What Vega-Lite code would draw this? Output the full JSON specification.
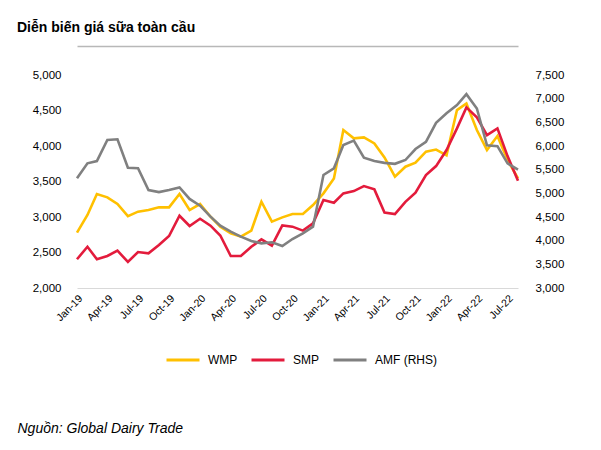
{
  "$schema": "https://vega.github.io/schema/vega-lite/v6.json",
  "autosize": "none",
  "width": 441,
  "height": 213,
  "padding": {"left": 77, "top": 75, "right": 83, "bottom": 162},
  "background": "white",
  "config": {
    "view": {"stroke": null},
    "font": "Liberation Sans, sans-serif"
  },
  "title": {
    "text": "Diễn biến giá sữa toàn cầu",
    "anchor": "start",
    "frame": "group",
    "dx": -60,
    "offset": 0,
    "baseline": "alphabetic",
    "font": "Liberation Sans, sans-serif",
    "fontSize": 14,
    "fontWeight": "bold",
    "color": "#000000"
  },
  "data": {
    "values": [
      {"d": "2019-01-01T00:00:00", "WMP": 2779, "SMP": 2405, "AMF": 5318},
      {"d": "2019-02-01T00:00:00", "WMP": 3028, "SMP": 2581, "AMF": 5635},
      {"d": "2019-03-01T00:00:00", "WMP": 3323, "SMP": 2405, "AMF": 5683},
      {"d": "2019-04-01T00:00:00", "WMP": 3277, "SMP": 2451, "AMF": 6127},
      {"d": "2019-05-01T00:00:00", "WMP": 3183, "SMP": 2526, "AMF": 6141},
      {"d": "2019-06-01T00:00:00", "WMP": 3013, "SMP": 2367, "AMF": 5542},
      {"d": "2019-07-01T00:00:00", "WMP": 3075, "SMP": 2507, "AMF": 5529},
      {"d": "2019-08-01T00:00:00", "WMP": 3098, "SMP": 2489, "AMF": 5070},
      {"d": "2019-09-01T00:00:00", "WMP": 3136, "SMP": 2605, "AMF": 5027},
      {"d": "2019-10-01T00:00:00", "WMP": 3136, "SMP": 2732, "AMF": 5070},
      {"d": "2019-11-01T00:00:00", "WMP": 3323, "SMP": 3018, "AMF": 5126},
      {"d": "2019-12-01T00:00:00", "WMP": 3098, "SMP": 2873, "AMF": 4881},
      {"d": "2020-01-01T00:00:00", "WMP": 3183, "SMP": 2976, "AMF": 4740},
      {"d": "2020-02-01T00:00:00", "WMP": 3004, "SMP": 2878, "AMF": 4507},
      {"d": "2020-03-01T00:00:00", "WMP": 2864, "SMP": 2739, "AMF": 4316},
      {"d": "2020-04-01T00:00:00", "WMP": 2770, "SMP": 2451, "AMF": 4191},
      {"d": "2020-05-01T00:00:00", "WMP": 2723, "SMP": 2451, "AMF": 4085},
      {"d": "2020-06-01T00:00:00", "WMP": 2808, "SMP": 2581, "AMF": 3993},
      {"d": "2020-07-01T00:00:00", "WMP": 3215, "SMP": 2685, "AMF": 3944},
      {"d": "2020-08-01T00:00:00", "WMP": 2934, "SMP": 2597, "AMF": 3965},
      {"d": "2020-09-01T00:00:00", "WMP": 2995, "SMP": 2881, "AMF": 3886},
      {"d": "2020-10-01T00:00:00", "WMP": 3042, "SMP": 2864, "AMF": 4035},
      {"d": "2020-11-01T00:00:00", "WMP": 3042, "SMP": 2808, "AMF": 4155},
      {"d": "2020-12-01T00:00:00", "WMP": 3169, "SMP": 2911, "AMF": 4296},
      {"d": "2021-01-01T00:00:00", "WMP": 3333, "SMP": 3240, "AMF": 5387},
      {"d": "2021-02-01T00:00:00", "WMP": 3544, "SMP": 3201, "AMF": 5529},
      {"d": "2021-03-01T00:00:00", "WMP": 4225, "SMP": 3333, "AMF": 6021},
      {"d": "2021-04-01T00:00:00", "WMP": 4108, "SMP": 3365, "AMF": 6113},
      {"d": "2021-05-01T00:00:00", "WMP": 4122, "SMP": 3436, "AMF": 5753},
      {"d": "2021-06-01T00:00:00", "WMP": 4037, "SMP": 3389, "AMF": 5683},
      {"d": "2021-07-01T00:00:00", "WMP": 3839, "SMP": 3062, "AMF": 5643},
      {"d": "2021-08-01T00:00:00", "WMP": 3567, "SMP": 3042, "AMF": 5623},
      {"d": "2021-09-01T00:00:00", "WMP": 3708, "SMP": 3213, "AMF": 5704},
      {"d": "2021-10-01T00:00:00", "WMP": 3764, "SMP": 3342, "AMF": 5936},
      {"d": "2021-11-01T00:00:00", "WMP": 3920, "SMP": 3590, "AMF": 6087},
      {"d": "2021-12-01T00:00:00", "WMP": 3950, "SMP": 3717, "AMF": 6490},
      {"d": "2022-01-01T00:00:00", "WMP": 3869, "SMP": 3943, "AMF": 6692},
      {"d": "2022-02-01T00:00:00", "WMP": 4506, "SMP": 4248, "AMF": 6864},
      {"d": "2022-03-01T00:00:00", "WMP": 4600, "SMP": 4544, "AMF": 7096},
      {"d": "2022-04-01T00:00:00", "WMP": 4225, "SMP": 4403, "AMF": 6793},
      {"d": "2022-05-01T00:00:00", "WMP": 3943, "SMP": 4154, "AMF": 6016},
      {"d": "2022-06-01T00:00:00", "WMP": 4140, "SMP": 4248, "AMF": 5996},
      {"d": "2022-07-01T00:00:00", "WMP": 3803, "SMP": 3858, "AMF": 5632},
      {"d": "2022-08-01T00:00:00", "WMP": 3544, "SMP": 3511, "AMF": 5501}
    ]
  },
  "layer": [
    {
      "transform": [{"fold": ["WMP", "SMP"], "as": ["series", "price"]}],
      "mark": {"type": "line", "strokeWidth": 2.6, "strokeJoin": "miter", "clip": false},
      "encoding": {
        "x": {
          "field": "d",
          "type": "temporal",
          "scale": {"domain": ["2019-01-01T00:00:00", "2022-08-01T00:00:00"], "nice": false},
          "axis": {
            "title": "Nguồn: Global Dairy Trade",
            "titleX": -60,
            "titleY": 144,
            "titleAlign": "left",
            "titleAnchor": "start",
            "titleAngle": 0,
            "titleBaseline": "alphabetic",
            "titleFont": "Liberation Sans, sans-serif",
            "titleFontSize": 14,
            "titleFontStyle": "italic",
            "titleFontWeight": "normal",
            "titleColor": "#000000",
            "format": "%b-%y",
            "tickCount": {"interval": "month", "step": 3},
            "labelAngle": -45,
            "labelFont": "Liberation Sans, sans-serif",
            "labelFontSize": 10.5,
            "labelColor": "#000000",
            "labelPadding": 5,
            "labelOverlap": false,
            "labelFlush": false,
            "ticks": false,
            "grid": false,
            "domainColor": "#D9D9D9",
            "domainWidth": 1
          }
        },
        "y": {
          "field": "price",
          "type": "quantitative",
          "scale": {"domain": [2000, 5000], "nice": false, "zero": false},
          "axis": {
            "title": null,
            "values": [2000, 2500, 3000, 3500, 4000, 4500, 5000],
            "format": ",.0f",
            "domain": false,
            "ticks": false,
            "grid": false,
            "labelFont": "Liberation Sans, sans-serif",
            "labelFontSize": 11.5,
            "labelColor": "#000000",
            "labelPadding": 16
          }
        },
        "color": {
          "field": "series",
          "type": "nominal",
          "scale": {"domain": ["WMP", "SMP", "AMF (RHS)"], "range": ["#FFC000", "#E31B3C", "#808080"]},
          "legend": {
            "title": null,
            "orient": "none",
            "direction": "horizontal",
            "legendX": 88,
            "legendY": 267,
            "symbolType": "stroke",
            "symbolSize": 1089,
            "symbolStrokeWidth": 3,
            "labelFont": "Liberation Sans, sans-serif",
            "labelFontSize": 12,
            "labelColor": "#000000",
            "labelOffset": 7,
            "columnPadding": 7
          }
        }
      }
    },
    {
      "mark": {"type": "line", "strokeWidth": 2.6, "strokeJoin": "miter", "clip": false},
      "encoding": {
        "x": {
          "field": "d",
          "type": "temporal",
          "axis": {
            "orient": "top",
            "offset": 29,
            "domain": true,
            "labels": false,
            "ticks": false,
            "grid": false,
            "title": null,
            "domainColor": "#B8B8B8",
            "domainWidth": 1.5
          }
        },
        "y": {
          "field": "AMF",
          "type": "quantitative",
          "scale": {"domain": [3000, 7500], "nice": false, "zero": false},
          "axis": {
            "title": null,
            "orient": "right",
            "values": [3000, 3500, 4000, 4500, 5000, 5500, 6000, 6500, 7000, 7500],
            "format": ",.0f",
            "domain": false,
            "ticks": false,
            "grid": false,
            "labelFont": "Liberation Sans, sans-serif",
            "labelFontSize": 11.5,
            "labelColor": "#000000",
            "labelPadding": 17
          }
        },
        "color": {"datum": "AMF (RHS)", "type": "nominal"}
      }
    }
  ],
  "resolve": {"scale": {"y": "independent"}, "axis": {"x": "independent"}}
}
